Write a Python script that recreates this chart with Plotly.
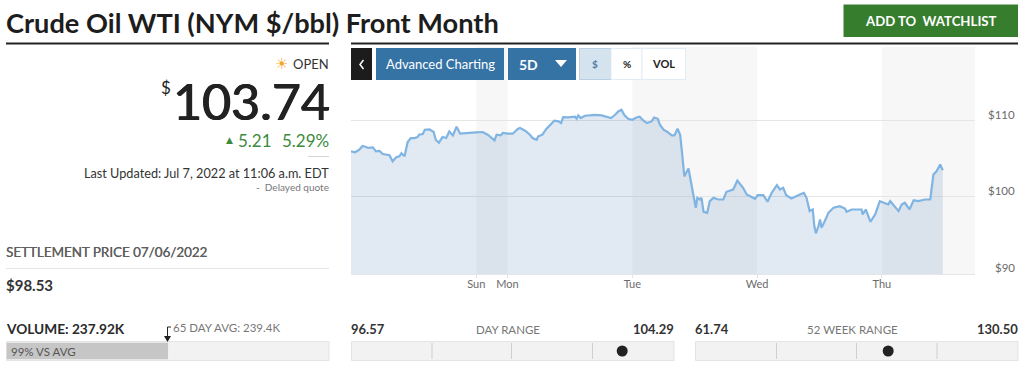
import plotly.graph_objects as go

W, H = 1024, 365

# --- data ---
hours = [-30.1,-29.3,-28.5,-27.9,-27.2,-26.8,-25.9,-25.3,-24.6,-24.0,-22.7,-22.1,-21.4,-20.8,-20.4,-19.8,-19.2,-18.6,-17.9,-17.3,
         -17.0,-16.3,-15.9,-15.0,-14.2,-13.8,-13.2,-12.5,-11.8,-11.2,-10.5,-9.8,-9.1,-8.0,-6.1,-4.8,-3.8,-2.5,-2.1,-1.3,
         -0.9,0.0,1.0,1.96,2.4,3.4,4.3,4.8,5.6,5.9,6.7,7.5,8.2,9.0,9.8,10.3,10.7,11.7,13.0,13.3,
         13.6,14.1,14.9,16.8,18.1,19.9,20.7,21.3,21.9,22.5,23.2,24.0,24.8,25.4,26.1,26.8,27.7,28.2,28.9,29.3,
         30.0,30.6,31.6,32.1,32.7,33.2,33.6,34.0,34.8,35.1,35.7,36.2,36.5,37.0,37.3,37.7,38.4,38.9,39.6,40.5,
         41.5,42.1,43.4,44.2,45.3,46.0,47.6,48.1,49.2,50.0,50.8,51.8,52.4,53.0,53.6,54.6,55.9,56.3,57.0,57.5,
         58.1,58.7,59.0,59.3,59.8,60.1,60.4,61.3,61.7,62.7,63.9,64.9,65.2,66.2,68.1,68.3,68.9,69.8,70.7,71.6,
         73.2,73.6,75.2,75.8,76.4,77.3,78.1,79.0,80.3,81.3,81.9,82.5,83.2,83.7]
prices = [105.99,105.86,106.21,106.69,106.56,106.43,106.51,105.99,106.03,105.64,105.47,104.68,105.21,105.34,105.73,105.34,107.21,107.73,107.73,107.86,
          108.17,108.26,108.82,108.87,108.52,107.51,107.12,107.86,107.73,108.60,108.08,109.21,108.30,108.39,108.47,108.52,108.17,107.43,108.17,108.08,
          108.39,108.30,108.30,108.91,109.04,108.69,108.17,107.73,107.51,107.95,108.17,108.95,109.48,110.00,109.91,109.69,110.48,110.43,110.52,110.26,
          110.70,110.35,110.65,110.78,110.70,110.35,110.78,111.22,111.44,110.70,110.26,110.13,110.43,110.52,110.04,109.69,109.91,110.43,110.26,109.48,
          108.82,108.60,108.08,108.08,108.95,108.17,105.55,102.70,103.73,102.51,100.33,98.59,99.89,99.67,99.89,98.06,97.93,99.46,99.89,99.67,
          99.67,100.68,100.98,102.16,101.20,100.33,99.76,100.24,100.24,99.37,100.55,101.55,100.98,101.20,100.24,99.81,100.24,100.32,100.54,99.89,
          98.15,98.36,96.19,95.23,96.19,97.06,95.97,97.27,97.93,98.58,98.80,98.49,98.06,98.36,98.36,97.71,98.36,96.75,97.71,99.45,
          99.02,99.45,98.15,99.02,99.24,98.36,99.58,99.45,99.67,99.67,102.94,103.37,104.25,103.51]
day_ticks = [-6, 0, 24, 48, 72]
day_labels = ["Sun", "Mon", "Tue", "Wed", "Thu"]
price_ticks = [90, 100, 110]
price_labels = ["$90", "$100", "$110"]
closed_spans = [(-6, 0), (24, 48), (72, 89.9)]

day_low, day_high, day_marker = 96.57, 104.29, 103.05
year_low, year_high, year_marker = 61.74, 130.50, 102.82
volume, volume_axis_max = 237.92, 475

BLUE = "#3673a5"
GREY = "#6b6b6b"
INK = "#222222"
FONT = "Lato"


def X(px):
    return px / W


def Y(px):
    return 1 - px / H


fig = go.Figure()

# --- main chart ---
fig.add_trace(go.Scatter(x=hours, y=prices, mode="lines", fill="tozeroy",
                         line=dict(color="#80b4e2", width=2.2),
                         fillcolor="rgba(54,115,165,0.15)", hoverinfo="skip", showlegend=False))

# --- range gauges and volume bar, each on its own scale ---
fig.add_trace(go.Bar(x=[volume], y=[0], orientation="h", width=1, marker=dict(color="#c6c6c6", line_width=0),
                     xaxis="x2", yaxis="y2", hoverinfo="skip", showlegend=False))
fig.add_trace(go.Scatter(x=[day_marker], y=[0], mode="markers", marker=dict(color=INK, size=11),
                         xaxis="x3", yaxis="y3", hoverinfo="skip", showlegend=False))
fig.add_trace(go.Scatter(x=[year_marker], y=[0], mode="markers", marker=dict(color=INK, size=11),
                         xaxis="x4", yaxis="y4", hoverinfo="skip", showlegend=False))


def hidden(**kw):
    return dict(visible=False, fixedrange=True, automargin=False, **kw)


shapes = []
for a, b in closed_spans:
    shapes.append(dict(type="rect", xref="x", yref="paper", x0=a, x1=b, y0=Y(274), y1=Y(47),
                       fillcolor="#f7f7f7", line_width=0, layer="below"))


def rect(x0, y0, x1, y1, fill, line=None, layer="below"):
    shapes.append(dict(type="rect", xref="paper", yref="paper", x0=X(x0), x1=X(x1), y0=Y(y1), y1=Y(y0),
                       fillcolor=fill, line=dict(color=line or fill, width=1 if line else 0), layer=layer))


def seg(x0, y0, x1, y1, color, width=1):
    shapes.append(dict(type="line", xref="paper", yref="paper", x0=X(x0), x1=X(x1), y0=Y(y0), y1=Y(y1),
                       line=dict(color=color, width=width)))


# header rules
seg(6, 43.5, 329, 43.5, "#222222", 2)
seg(351, 43.5, 1018, 43.5, "#222222", 2)
# buttons
rect(843.5, 4.5, 1018, 37, "#367e2e")
rect(351, 48, 372, 80, "#1c1c1c")
rect(376, 48, 504, 80, BLUE)
rect(508, 48, 576, 80, BLUE)
rect(579.5, 48.5, 611, 79.5, "#d5e3ef", "#b9d0e4")
rect(611, 48.5, 642, 79.5, "#ffffff", "#e3ecf4")
rect(642, 48.5, 685.5, 79.5, "#ffffff", "#e3ecf4")
shapes.append(dict(type="path", xref="paper", yref="paper",
                   path=f"M {X(555)} {Y(60)} L {X(567)} {Y(60)} L {X(561)} {Y(67)} Z",
                   fillcolor="#ffffff", line_width=0))
shapes.append(dict(type="path", xref="paper", yref="paper",
                   path=f"M {X(363.5)} {Y(60)} L {X(360)} {Y(64.5)} L {X(363.5)} {Y(69)}",
                   line=dict(color="#ffffff", width=1.5)))
# left column rules
seg(308, 156.5, 329, 156.5, "#d5d5d5", 1)
seg(6, 268.5, 329, 268.5, "#e5e5e5", 1)
# gauge tracks
rect(6.5, 341.5, 329, 360.5, "#f2f2f2", "#e4e4e4")
rect(351.5, 341.5, 674, 360.5, "#f2f2f2", "#e4e4e4")
rect(695.5, 341.5, 1018, 360.5, "#f2f2f2", "#e4e4e4")
for px in (432, 511.5, 592.5, 776.5, 856.5, 937):
    seg(px, 343, px, 359, "#cfcfcf", 1)
# volume average arrow
seg(171, 327, 167.5, 327, "#222222", 1)
seg(167.5, 327, 167.5, 336, "#222222", 1)
shapes.append(dict(type="path", xref="paper", yref="paper",
                   path=f"M {X(164)} {Y(336)} L {X(171)} {Y(336)} L {X(167.5)} {Y(342)} Z",
                   fillcolor="#222222", line_width=0))


def txt(x, y, s, size=12, color=INK, anchor="left", bold=False, shadow=None):
    # annotation boxes carry a small inner pad; cancel it so x is the text edge
    pad = {"left": -2, "right": 2, "center": 0}[anchor]
    font = dict(family=FONT, size=size, color=color)
    if shadow:
        font["shadow"] = shadow
    return dict(x=X(x + pad), y=Y(y), xref="paper", yref="paper", text=f"<b>{s}</b>" if bold else s,
                showarrow=False, xanchor=anchor, yanchor="middle", align=anchor, font=font)


def glyph(x, y, s, size, color):
    return dict(x=X(x), y=Y(y), xref="paper", yref="paper", text=s, showarrow=False,
                xanchor="center", yanchor="middle", font=dict(family="DejaVu Sans", size=size, color=color))


annotations = [
    txt(6, 23, "Crude Oil WTI (NYM $/bbl) Front Month", 27.2, "#1d1d1d", bold=True),
    txt(930.5, 21, "ADD TO  WATCHLIST", 13.2, "#ffffff", "center", True),
    txt(386, 64, "Advanced Charting", 13, "#ffffff"),
    txt(519, 64.5, "5D", 14, "#ffffff", bold=True),
    txt(595, 63.5, "$", 10, "#4f7da6", "center", True),
    txt(627, 63.5, "%", 10, INK, "center", True),
    txt(663.5, 63.5, "VOL", 11, INK, "center", True),
    glyph(281, 64, "☀", 15, "#f5a623"),
    txt(329, 64, "OPEN", 13, "#333333", "right"),
    txt(166, 87, "$", 17, INK, "center"),
    txt(330, 101, "103.74", 50, INK, "right", shadow="0.8px 0 0 #222222, -0.4px 0 0 #222222"),
    glyph(229, 140, "▲", 9, "#3e8a3d"),
    txt(272, 140, "5.21", 17, "#3e8a3d", "right"),
    txt(329, 140, "5.29%", 17, "#3e8a3d", "right"),
    txt(329, 173, "Last Updated: Jul 7, 2022 at 11:06 a.m. EDT", 12.7, "#333333", "right"),
    txt(329, 187, "-  Delayed quote", 10, "#777777", "right"),
    txt(6, 252, "SETTLEMENT PRICE 07/06/2022", 13.4, "#5f5f5f", shadow="0.3px 0 0 #5f5f5f"),
    txt(6, 285, "$98.53", 15, "#333333", bold=True),
    txt(6, 328, "VOLUME: 237.92K", 13.7, "#2a2a2a", bold=True),
    txt(173, 327, "65 DAY AVG: 239.4K", 11.5, "#777777"),
    txt(11, 351.5, "99% VS AVG", 11.5, "#555555"),
    txt(351, 329, f"{day_low:.2f}", 13, "#333333", bold=True),
    txt(508, 329.5, "DAY RANGE", 11.5, "#777777", "center"),
    txt(674, 329, f"{day_high:.2f}", 13, "#333333", "right", True),
    txt(695, 329, f"{year_low:.2f}", 13, "#333333", bold=True),
    txt(852, 329.5, "52 WEEK RANGE", 11.5, "#777777", "center"),
    txt(1018, 329, f"{year_high:.2f}", 13, "#333333", "right", True),
]
# price labels sit just above their gridlines, tied to the price scale
for value, label in zip(price_ticks, price_labels):
    annotations.append(dict(x=X(1017), y=value, xref="paper", yref="y", yshift=6, text=label, showarrow=False,
                            xanchor="right", yanchor="middle", font=dict(family=FONT, size=11.5, color=GREY)))

fig.update_layout(
    width=W, height=H, autosize=False, margin=dict(l=0, r=0, t=0, b=0),
    paper_bgcolor="#ffffff", plot_bgcolor="rgba(0,0,0,0)", showlegend=False, hovermode=False,
    font=dict(family=FONT), shapes=shapes, annotations=annotations,
    xaxis=dict(domain=[X(351), X(975)], range=[-30.1, 89.9], tickmode="array", tickvals=day_ticks, ticktext=day_labels,
               showgrid=False, zeroline=False, ticks="outside", ticklen=3, tickcolor="#e3e3e3", automargin=False,
               ticklabelstandoff=-3,
               showline=True, linecolor="#e6e6e6", tickfont=dict(size=11, color=GREY, family=FONT), fixedrange=True),
    yaxis=dict(domain=[Y(274), Y(47)], range=[89.9, 119.67], side="right", tickmode="array", tickvals=price_ticks,
               showticklabels=False,
               showgrid=True, gridcolor="#e5e5e5", gridwidth=1, zeroline=False, ticks="", automargin=False,
               fixedrange=True, layer="above traces"),
    xaxis2=hidden(domain=[X(6.5), X(329)], range=[0, volume_axis_max], anchor="y2"),
    yaxis2=hidden(domain=[Y(359.5), Y(342.5)], range=[-0.5, 0.5], anchor="x2"),
    xaxis3=hidden(domain=[X(351.5), X(674)], range=[day_low, day_high], anchor="y3"),
    yaxis3=hidden(domain=[Y(361), Y(341)], range=[-1, 1], anchor="x3"),
    xaxis4=hidden(domain=[X(695.5), X(1018)], range=[year_low, year_high], anchor="y4"),
    yaxis4=hidden(domain=[Y(361), Y(341)], range=[-1, 1], anchor="x4"),
)

fig.write_html("out.html", config=dict(displayModeBar=False),
               post_script="document.body.style.margin='0';document.documentElement.style.overflow='hidden';")
